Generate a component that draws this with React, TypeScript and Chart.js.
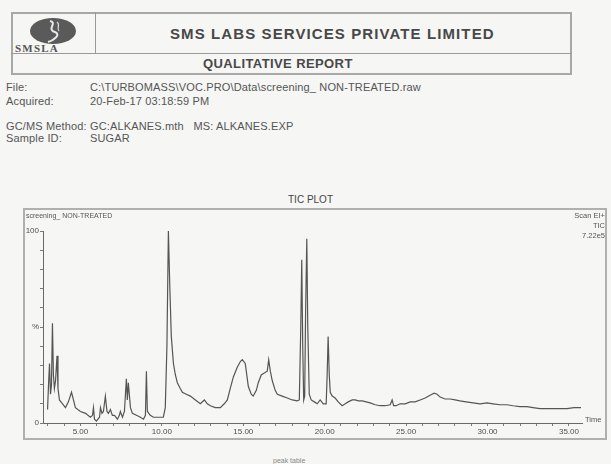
import React, { useEffect, useRef } from "react";
import { Chart, registerables } from "chart.js";

Chart.register(...registerables);

// Retention time (minutes)
const retentionTimes: number[] = [
  2.98, 3.04, 3.10, 3.16, 3.22, 3.28, 3.34, 3.40, 3.47, 3.56, 3.62, 3.71, 3.90, 4.08, 4.26, 4.45, 4.57, 4.69,
  5.00, 5.31, 5.61, 5.74, 5.80, 5.86, 5.98, 6.17, 6.23, 6.32, 6.41, 6.53, 6.63, 6.72, 6.84, 6.96, 7.09, 7.27,
  7.39, 7.45, 7.58, 7.70, 7.82, 7.88, 7.94, 8.07, 8.19, 8.44, 8.68, 8.87, 8.99, 9.05, 9.11, 9.29, 9.48, 9.79,
  10.09, 10.21, 10.31, 10.40, 10.49, 10.58, 10.71, 10.83, 10.95, 11.13, 11.26, 11.50, 11.75, 12.06, 12.36,
  12.61, 12.79, 12.98, 13.28, 13.59, 13.83, 14.02, 14.20, 14.39, 14.63, 14.82, 14.94, 15.12, 15.31, 15.49,
  15.61, 15.80, 15.92, 16.10, 16.29, 16.47, 16.56, 16.66, 16.78, 16.96, 17.09, 17.39, 17.70, 18.01, 18.31,
  18.44, 18.53, 18.59, 18.65, 18.71, 18.77, 18.83, 18.90, 18.96, 19.05, 19.17, 19.36, 19.54, 19.72, 19.91,
  20.09, 20.15, 20.21, 20.28, 20.34, 20.46, 20.64, 20.83, 21.07, 21.26, 21.44, 21.69, 21.87, 22.06, 22.30,
  22.55, 22.79, 23.10, 23.40, 23.71, 24.02, 24.14, 24.23, 24.39, 24.63, 24.94, 25.25, 25.55, 25.86, 26.17,
  26.47, 26.72, 26.90, 27.09, 27.39, 27.70, 28.01, 28.31, 28.68, 29.11, 29.54, 29.97, 30.34, 30.77, 31.20,
  31.56, 31.99, 32.42, 32.79, 33.22, 33.65, 34.02, 34.45, 34.88, 35.31, 35.74,
];

// Relative abundance (%)
const abundance: number[] = [
  7, 20, 31, 15, 20, 52, 25, 18, 22, 35, 18, 12, 10, 8, 11, 16, 12, 8,
  6, 5, 3, 4, 8, 2, 1, 3, 8, 5, 6, 14, 6, 5, 7, 4, 4, 2,
  4, 6, 3, 6, 23, 12, 21, 8, 5, 4, 3, 2, 4, 27, 6, 4, 3, 3,
  3, 8, 40, 100, 70, 45, 31, 25, 21, 18, 16, 15, 14, 12, 10,
  12, 10, 9, 8, 8, 10, 12, 18, 24, 29, 32, 33, 31, 19, 15,
  14, 17, 21, 25, 26, 27, 33, 27, 22, 17, 15, 14, 13, 12, 11.5,
  12, 50, 85, 40, 12, 14, 60, 96, 50, 15, 12, 11, 10, 12, 10,
  10, 25, 45, 25, 16, 14, 13, 11, 9, 10, 11, 12, 12, 11.5, 11.5,
  11, 10.5, 9.5, 9, 9, 9.5, 12, 9, 9, 10, 10, 11, 11, 12, 13,
  14.5, 15.5, 15, 13.5, 12.5, 12.5, 12, 11.5, 11, 10.5, 10, 10.5, 10, 9.5, 9.5,
  9, 8.5, 8.5, 8, 7.5, 7.5, 7.5, 7.5, 7.5, 8, 8,
];

const xTickLabels: number[] = [5, 10, 15, 20, 25, 30, 35];
const yTickLabels: Record<number, string> = { 100: "100", 50: "%", 0: "0" };

const ink = "#4f4f4f";
const font = "'Liberation Sans', Arial, sans-serif";

function TicChart() {
  const ref = useRef<HTMLCanvasElement | null>(null);
  useEffect(() => {
    if (!ref.current) return;
    const points = retentionTimes.map((t, i) => ({ x: t, y: abundance[i] }));
    const chart = new Chart(ref.current, {
      type: "line",
      data: {
        datasets: [
          {
            data: points,
            borderColor: "#555555",
            borderWidth: 1.2,
            pointRadius: 0,
            tension: 0,
            fill: false,
          },
        ],
      },
      options: {
        animation: false,
        responsive: false,
        maintainAspectRatio: false,
        layout: { padding: { left: 0, right: 23, top: 21, bottom: 0 } },
        plugins: { legend: { display: false }, tooltip: { enabled: false }, title: { display: false } },
        scales: {
          x: {
            type: "linear",
            min: 2.7,
            max: 35.8,
            afterFit: (s: any) => {
              s.height = 15;
            },
            border: { display: true, color: "#6a6a6a", width: 1 },
            grid: { drawOnChartArea: false, drawTicks: true, tickLength: 3, color: "#7a7a7a" },
            ticks: {
              stepSize: 1,
              includeBounds: false,
              autoSkip: false,
              maxRotation: 0,
              padding: 1,
              color: ink,
              font: { family: font, size: 8 },
              callback: (v: any) => (xTickLabels.includes(Number(v)) ? Number(v).toFixed(2) : ""),
            },
          },
          y: {
            type: "linear",
            min: 0,
            max: 100,
            afterFit: (s: any) => {
              s.width = 18;
            },
            border: { display: true, color: "#6a6a6a", width: 1 },
            grid: { drawOnChartArea: false, drawTicks: true, tickLength: 3, color: "#7a7a7a" },
            ticks: {
              stepSize: 10,
              autoSkip: false,
              padding: 1,
              color: ink,
              font: { family: font, size: 8 },
              callback: (v: any) => yTickLabels[Number(v)] ?? "",
            },
          },
        },
      },
    });
    return () => chart.destroy();
  }, []);
  return <canvas ref={ref} width={580} height={228} style={{ position: "absolute", left: 0, top: 0, width: 580, height: 228 }} />;
}

const abs = (left: number, top: number, extra: React.CSSProperties = {}): React.CSSProperties => ({
  position: "absolute",
  left,
  top,
  whiteSpace: "nowrap",
  lineHeight: 1,
  ...extra,
});

export default function App() {
  const meta: React.CSSProperties = { fontFamily: font, fontSize: 11, color: "#555", letterSpacing: 0.15 };
  return (
    <div
      style={{
        position: "fixed",
        left: 0,
        top: 0,
        width: 611,
        height: 464,
        background: "#f6f6f4",
        overflow: "hidden",
        fontFamily: font,
        color: ink,
      }}
    >
      {/* Header box */}
      <div style={{ position: "absolute", left: 11, top: 12, width: 561, height: 63, border: "2px solid #a8a8a8", boxSizing: "border-box" }} />
      <div style={{ position: "absolute", left: 11, top: 53, width: 561, height: 1, background: "#9a9a9a" }} />
      <div style={{ position: "absolute", left: 95, top: 12, width: 1, height: 41, background: "#9a9a9a" }} />
      <svg style={{ position: "absolute", left: 28, top: 17 }} width={50} height={28} viewBox="0 0 50 28">
        <ellipse cx={25} cy={14} rx={23} ry={13} fill="#5a5a5a" />
        <path d="M22 4 C30 6, 18 12, 27 15 C34 18, 24 24, 20 25" stroke="#e8e8e8" strokeWidth={2} fill="none" />
        <path d="M29 5 C33 8, 28 11, 31 14" stroke="#d8d8d8" strokeWidth={1.2} fill="none" />
      </svg>
      <div style={abs(15, 43, { fontFamily: "'Liberation Serif', serif", fontSize: 11, letterSpacing: 1.2, fontWeight: 700, color: "#555" })}>SMSLA</div>
      <div style={abs(170, 26, { fontSize: 15, fontWeight: 700, color: "#484848", letterSpacing: 1.1 })}>SMS LABS SERVICES PRIVATE LIMITED</div>
      <div style={abs(203, 57, { fontSize: 13, fontWeight: 700, color: "#484848", letterSpacing: 0.4 })}>QUALITATIVE REPORT</div>

      {/* Metadata */}
      <div style={abs(6, 82, meta)}>File:</div>
      <div style={abs(90, 82, meta)}>C:\TURBOMASS\VOC.PRO\Data\screening_ NON-TREATED.raw</div>
      <div style={abs(6, 96, meta)}>Acquired:</div>
      <div style={abs(90, 96, meta)}>20-Feb-17 03:18:59 PM</div>
      <div style={abs(6, 121, meta)}>GC/MS Method:</div>
      <div style={abs(90, 121, meta)}>GC:ALKANES.mth&nbsp;&nbsp; MS: ALKANES.EXP</div>
      <div style={abs(6, 133, meta)}>Sample ID:</div>
      <div style={abs(90, 133, meta)}>SUGAR</div>

      {/* Chart title */}
      <div style={abs(288, 195, { fontSize: 10, color: "#444" })}>TIC PLOT</div>

      {/* Chart frame */}
      <div style={{ position: "absolute", left: 23, top: 208, width: 584, height: 232, border: "2px solid #b0b0b0", boxSizing: "border-box" }} />
      <div style={{ position: "absolute", left: 25, top: 210, width: 580, height: 228 }}>
        <TicChart />
      </div>
      <div style={abs(26, 212, { fontSize: 7, color: "#555" })}>screening_ NON-TREATED</div>
      <div style={{ ...abs(540, 211, { fontSize: 7.5, color: "#555", textAlign: "right", lineHeight: "10px" }), width: 65 }}>
        Scan EI+
        <br />
        TIC
        <br />
        7.22e5
      </div>
      <div style={abs(585, 416, { fontSize: 7.5, color: "#555" })}>Time</div>

      <div style={abs(273, 457, { fontSize: 7, color: "#888" })}>peak table</div>
    </div>
  );
}
